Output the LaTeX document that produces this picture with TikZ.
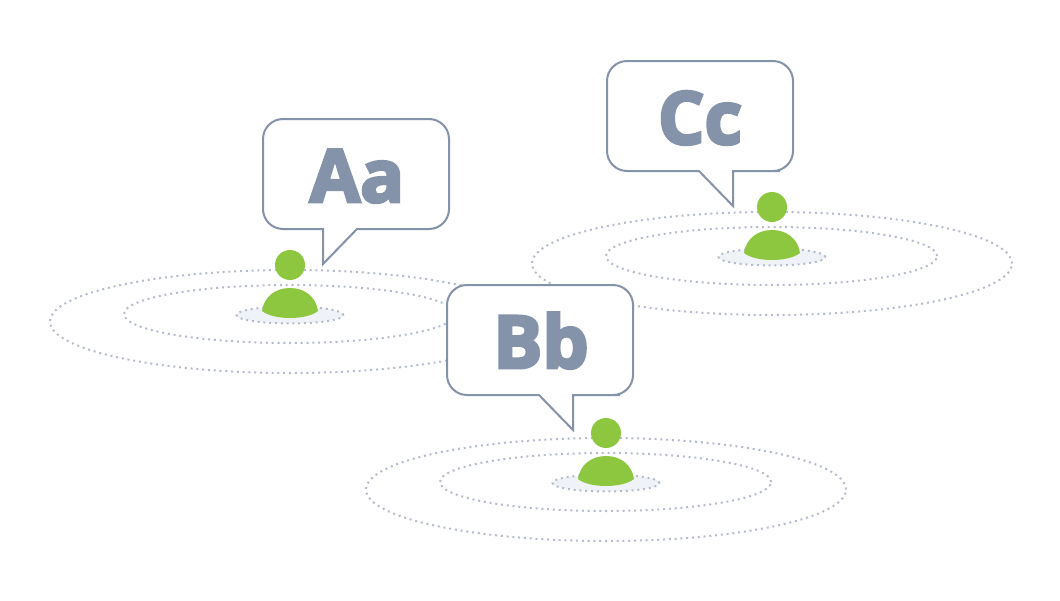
\documentclass[tikz,border=0pt]{standalone}
\usepackage{fontspec}
\setsansfont[BoldFeatures={FakeBold=4}]{Open Sans}
\usetikzlibrary{shapes.geometric}
\definecolor{slate}{HTML}{8493A9}
\definecolor{leaf}{HTML}{8DC63F}
\definecolor{dotgrey}{HTML}{B4BCCC}
\definecolor{mist}{HTML}{EFF3F8}
\tikzstyle{ring}=[shape=ellipse,draw=dotgrey,line width=2pt,dash pattern=on 2pt off 3.8pt,inner sep=0pt]
\tikzstyle{outerring}=[ring,minimum width=480pt,minimum height=103pt]
\tikzstyle{midring}=[ring,minimum width=331pt,minimum height=58pt]
\tikzstyle{basering}=[ring,fill=mist,minimum width=107pt,minimum height=17pt]
\tikzstyle{head}=[shape=circle,fill=leaf,minimum size=30pt,inner sep=0pt]
\tikzstyle{torso}=[fill=leaf]
\tikzstyle{bubble}=[draw=slate,fill=white,line width=2pt,line join=miter]
\tikzstyle{glyph}=[anchor=base,text=slate,inner sep=0pt,font=\sffamily\bfseries\fontsize{73}{73}\selectfont]
\newcommand{\domepath}{(262,311) .. controls (264,297) and (275,288) .. (290,288) .. controls (305,288) and (316,297) .. (318,311) .. controls (312,316) and (300,318) .. (290,318) .. controls (280,318) and (268,316) .. (262,311) -- cycle}

\begin{document}
\begin{tikzpicture}[x=1pt,y=-1pt]
            \useasboundingbox (0,0) rectangle (1060,600);
            % person on the left
            \node[outerring] (ringA) at (290, 321.5) {};
            \node[midring] (midA) at (289.5, 314) {};
            \node[basering] (baseA) at (290, 315) {};
            \node[head] (headA) at (290, 265) {};
            \fill[torso] \domepath;
            % person on the right
            \node[outerring] (ringC) at (772, 263.5) {};
            \node[midring] (midC) at (771.5, 256) {};
            \node[basering] (baseC) at (772, 257) {};
            \node[head] (headC) at (772, 207) {};
            \fill[torso, shift={(482,-58)}] \domepath;
            % person in front
            \node[outerring] (ringB) at (606, 489.5) {};
            \node[midring] (midB) at (605.5, 482) {};
            \node[basering] (baseB) at (606, 483) {};
            \node[head] (headB) at (606, 433) {};
            \fill[torso, shift={(316,168)}] \domepath;
            % speech bubbles
            \draw[bubble] (323,229) [rounded corners=20pt] -- (263,229) -- (263,119) -- (449,119) -- (449,229) -- (400,229) [sharp corners] -- (357,229) -- (323,264) -- cycle;
            \node[glyph] (textA) at (357, 202) {Aa};
            \draw[bubble] (539,395) [rounded corners=20pt] -- (447,395) -- (447,285) -- (633,285) -- (633,395) -- (600,395) [sharp corners] -- (573,395) -- (573,430) -- cycle;
            \node[glyph] (textB) at (541, 368) {Bb};
            \draw[bubble] (699,171) [rounded corners=20pt] -- (607,171) -- (607,61) -- (793,61) -- (793,171) -- (760,171) [sharp corners] -- (733,171) -- (733,206) -- cycle;
            \node[glyph] (textC) at (700, 144) {Cc};
        \end{tikzpicture}
\end{document}
